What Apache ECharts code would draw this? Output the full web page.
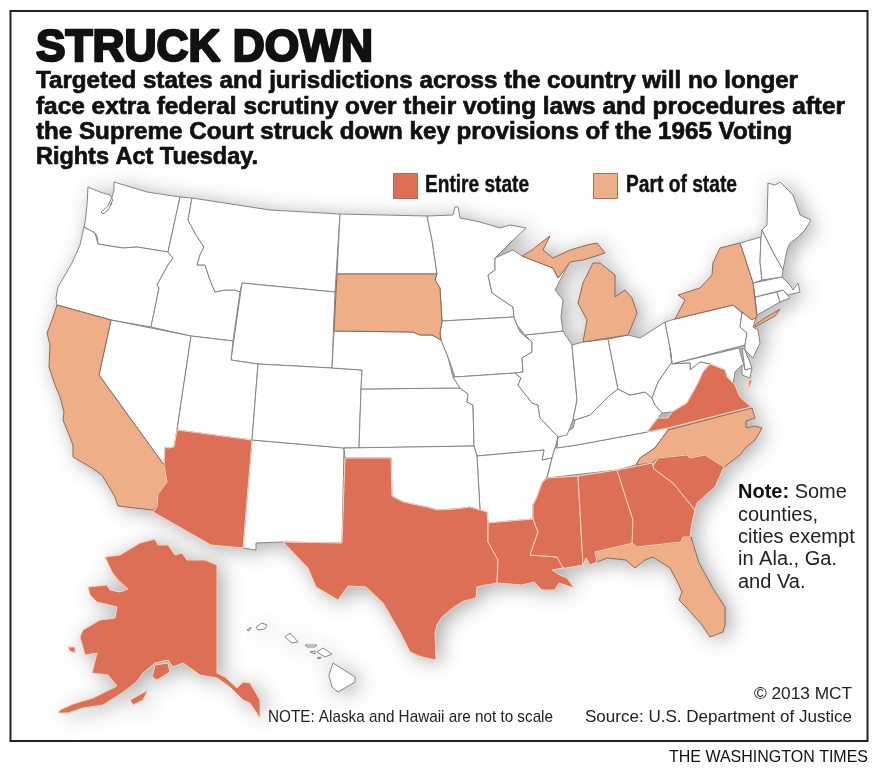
<!DOCTYPE html>
<html>
<head>
<meta charset="utf-8">
<style>
  html, body { margin: 0; padding: 0; background: #fff; }
  #main { width: 878px; height: 774px; }
</style>
<script src="https://cdn.jsdelivr.net/npm/echarts@6/dist/echarts.min.js"></script>
</head>
<body>
<div id="main"></div>
<script>
// state outlines, in map units (y grows downward)
const WA = [[[114,182],[147,192],[180,197],[168,252],[137,247],[123,248],[110,246],[98,244],[97,236],[95,233],[84,227],[85,222],[86,215],[87,205],[88,187],[95,190],[100,192],[110,195],[113,200],[110,205],[112,203],[108,210],[103,214],[101,212],[108,206],[112,197],[114,190]]];
const OR = [[[84,227],[95,233],[98,244],[110,246],[123,248],[137,247],[168,252],[173,258],[168,265],[157,285],[159,288],[151,327],[111,320],[57,305],[56,298],[58,287],[72,263],[80,245]]];
const ID = [[[180,197],[192,198],[188,220],[196,235],[204,247],[200,255],[197,265],[205,265],[210,280],[215,292],[225,290],[235,290],[240,292],[233,341],[191,336],[151,327],[159,288],[157,285],[168,265],[173,258],[168,252]]];
const MT = [[[192,198],[270,210],[340,214],[335,292],[242,283],[240,292],[235,290],[225,290],[215,292],[210,280],[205,265],[197,265],[200,255],[204,247],[196,235],[188,220]]];
const WY = [[[242,283],[335,292],[332,368],[258,364],[231,360]]];
const NV = [[[111,320],[191,336],[177,430],[174,447],[168,448],[165,447],[164,465],[99,375]]];
const CA = [[[57,305],[111,320],[99,375],[164,465],[167,482],[158,494],[157,507],[153,510],[118,506],[115,497],[102,475],[92,468],[73,457],[73,445],[63,420],[64,412],[60,397],[55,385],[49,367],[50,345],[47,333],[52,320]]];
const UT = [[[191,336],[233,341],[231,360],[258,364],[252,440],[177,430]]];
const AZ = [[[177,430],[252,440],[243,548],[211,545],[153,512],[157,507],[158,494],[167,482],[164,465],[165,447],[168,448],[174,447]]];
const NM = [[[252,440],[344,448],[342,543],[283,542],[256,543],[256,550],[243,548]]];
const CO = [[[258,364],[332,368],[362,370],[361,389],[359,448],[344,448],[252,440]]];
const KS = [[[361,389],[460,388],[468,394],[467,402],[473,405],[474,446],[359,448]]];
const NE = [[[334,331],[413,332],[420,335],[432,335],[441,340],[448,357],[453,377],[460,388],[361,389],[362,370],[332,368]]];
const SD = [[[337,274],[437,274],[435,280],[440,288],[442,322],[440,333],[441,340],[432,335],[420,335],[413,332],[334,331]]];
const ND = [[[340,214],[427,216],[432,240],[437,274],[337,274]]];
const MN = [[[427,216],[453,215],[455,207],[458,207],[460,218],[480,222],[500,228],[510,225],[526,228],[510,243],[498,255],[495,258],[495,270],[488,275],[492,293],[513,307],[514,317],[442,321],[440,288],[435,280],[437,274],[432,240]]];
const IA = [[[442,321],[514,317],[517,325],[520,332],[532,342],[532,352],[522,358],[523,372],[515,373],[455,377],[448,357],[441,340],[440,333]]];
const MO = [[[455,377],[515,373],[521,378],[518,385],[532,403],[538,405],[540,418],[558,437],[555,448],[552,458],[542,460],[544,450],[477,456],[474,446],[473,405],[467,402],[468,394],[460,388],[453,377]]];
const AR = [[[477,456],[544,450],[542,460],[552,458],[547,477],[542,483],[537,497],[533,505],[533,519],[488,523],[487,512],[480,510]]];
const OK = [[[344,448],[474,446],[477,456],[480,510],[470,507],[455,509],[437,510],[427,507],[417,505],[403,502],[392,496],[391,458],[345,458]]];
const TX = [[[345,458],[391,458],[392,496],[403,502],[417,505],[427,507],[437,510],[455,509],[470,507],[480,510],[487,512],[488,523],[488,542],[498,560],[497,583],[486,585],[477,587],[476,598],[464,601],[454,607],[442,617],[437,625],[435,633],[436,660],[422,657],[410,652],[400,632],[383,603],[366,587],[348,586],[338,600],[316,587],[308,568],[283,542],[342,543]]];
const LA = [[[488,523],[533,519],[538,532],[530,555],[557,557],[563,568],[552,570],[560,575],[567,578],[574,588],[559,583],[555,590],[542,590],[534,582],[522,585],[497,583],[498,560],[488,542]]];
const MS = [[[547,478],[578,476],[583,565],[566,568],[563,568],[557,557],[530,555],[538,532],[533,519],[533,505],[537,497],[542,483]]];
const AL = [[[578,476],[617,470],[633,520],[633,543],[595,552],[597,562],[590,565],[586,558],[583,565]]];
const GA = [[[617,470],[652,463],[654,469],[673,483],[695,510],[692,523],[690,537],[683,537],[681,542],[637,547],[632,543],[633,520]]];
const SC = [[[653,466],[658,458],[687,455],[690,458],[705,455],[724,467],[715,487],[697,503],[695,510],[673,483],[654,469]]];
const NC = [[[636,465],[640,458],[655,448],[668,430],[752,408],[755,418],[746,421],[746,428],[755,426],[762,428],[755,440],[745,448],[740,455],[724,467],[705,455],[690,458],[687,455],[658,458],[652,463]]];
const VA = [[[647,432],[658,418],[668,418],[672,412],[687,403],[698,383],[703,372],[710,364],[725,370],[727,377],[735,385],[740,397],[751,407],[668,428]], [[749,380],[752,380],[748,392]]];
const WV = [[[670,348],[672,364],[690,363],[690,370],[700,362],[710,364],[703,372],[698,383],[687,403],[672,412],[662,413],[655,405],[652,398],[658,382],[672,362]]];
const KY = [[[557,448],[558,437],[573,428],[575,420],[590,415],[610,395],[618,389],[630,395],[645,392],[652,398],[655,405],[662,413],[658,418],[647,432],[642,433],[577,445]]];
const TN = [[[555,448],[577,445],[642,433],[647,432],[668,428],[668,430],[655,448],[640,458],[636,465],[617,470],[547,478],[552,458]]];
const IL = [[[525,335],[563,331],[572,345],[577,400],[573,420],[567,435],[558,437],[540,418],[538,405],[532,403],[518,385],[521,378],[515,373],[523,372],[522,358],[532,352],[532,342]]];
const WI = [[[495,258],[513,250],[522,256],[553,268],[558,278],[568,265],[555,290],[563,300],[561,317],[563,331],[525,335],[517,325],[514,317],[513,307],[492,293],[488,275],[495,270]]];
const MI = [[[522,256],[532,250],[542,242],[550,236],[543,250],[553,258],[570,250],[587,245],[597,243],[605,253],[596,256],[583,260],[570,262],[568,265],[558,278],[553,268]], [[593,263],[600,263],[615,275],[615,297],[625,290],[632,298],[637,313],[628,335],[583,342],[587,320],[578,303],[583,283]]];
const IN = [[[572,345],[583,342],[608,339],[618,389],[610,395],[590,415],[575,420],[573,420],[577,400]]];
const OH = [[[608,339],[628,335],[640,338],[665,322],[670,348],[672,362],[658,382],[652,398],[645,392],[630,395],[618,389]]];
const PA = [[[665,322],[675,319],[733,305],[742,313],[740,327],[747,333],[745,345],[672,364],[670,348]]];
const NY = [[[675,319],[685,300],[678,295],[700,288],[712,275],[713,263],[720,248],[740,243],[753,283],[757,317],[752,320],[733,305]], [[755,325],[765,318],[780,309],[775,316],[755,327]]];
const NJ = [[[742,313],[756,318],[753,327],[758,330],[760,343],[753,358],[745,350],[745,345],[747,333],[740,327]]];
const DE = [[[742,348],[745,350],[752,368],[745,370]]];
const MD = [[[672,364],[739,348],[745,370],[752,368],[750,378],[742,375],[742,365],[735,372],[733,385],[727,377],[725,370],[710,364],[700,362],[690,370],[690,363]]];
const CT = [[[755,297],[777,292],[780,302],[757,315]]];
const RI = [[[777,292],[783,290],[790,298],[780,302]]];
const MA = [[[753,283],[782,277],[790,285],[793,290],[798,283],[800,292],[788,295],[783,290],[755,297]]];
const VT = [[[740,243],[761,237],[760,262],[762,280],[753,283]]];
const NH = [[[761,237],[762,230],[773,252],[783,270],[782,277],[762,280],[760,262]]];
const ME = [[[762,230],[767,225],[768,183],[775,185],[780,182],[793,195],[800,215],[811,220],[805,230],[797,238],[790,243],[787,250],[783,270],[773,252]]];
const FL = [[[595,552],[632,543],[637,547],[681,542],[683,537],[691,537],[699,563],[714,590],[725,607],[725,625],[723,632],[710,637],[702,625],[695,617],[686,607],[679,600],[682,592],[678,583],[670,568],[653,557],[645,560],[635,568],[626,560],[607,558],[597,562]]];
const AK = [
  [[105,557],[120,555],[140,543],[155,539],[158,545],[168,545],[175,555],[182,553],[187,560],[205,560],[217,565],[217,673],[225,677],[237,688],[243,682],[250,683],[260,700],[260,718],[250,703],[243,700],[230,687],[217,678],[200,675],[183,663],[173,667],[168,660],[155,663],[143,673],[138,680],[134,684],[122,693],[103,705],[83,708],[68,713],[58,713],[60,710],[73,704],[93,698],[117,686],[108,675],[92,673],[97,653],[85,655],[80,637],[83,630],[100,620],[115,618],[117,607],[97,602],[90,595],[88,587],[107,585],[110,590],[120,592],[128,589],[118,580],[112,572]],
  [[130,700],[148,690],[143,700],[133,705]],
  [[152,677],[155,665],[168,663],[170,672],[157,680]],
  [[68,647],[75,647],[75,653],[70,651]]
];
const HI = [
  [[256,627],[262,623],[267,625],[265,629],[258,630]],
  [[247,630],[251,627],[249,631]],
  [[285,637],[290,633],[298,642],[292,643]],
  [[305,645],[317,645],[315,647],[307,647]],
  [[310,652],[315,651],[315,654]],
  [[317,652],[323,648],[332,654],[325,657]],
  [[317,658],[321,657],[320,659]],
  [[333,663],[355,677],[355,682],[338,692],[332,687],[329,675]]
];

// draw order matters: the light outlines of the coloured states stay on top
const plainStates = { WA, OR, ID, MT, WY, NV, UT, NM, CO, KS, NE, ND, MN, IA, MO, AR, OK, TN, KY, IL, WI, IN, OH, PA, NJ, DE, MD, WV, CT, RI, MA, VT, NH, ME, HI };
const partStates = { CA, SD, MI, NY, NC, FL };
const entireStates = { AZ, TX, LA, MS, AL, GA, SC, VA, AK };

const headline = 'STRUCK DOWN';
const deck = [
  'Targeted states and jurisdictions across the country will no longer',
  'face extra federal scrutiny over their voting laws and procedures after',
  'the Supreme Court struck down key provisions of the 1965 Voting',
  'Rights Act Tuesday.'
];
const legendLabels = ['Entire state', 'Part of state'];
const noteLines = ['{b|Note:} Some', 'counties,', 'cities exempt', 'in Ala., Ga.', 'and Va.'];

const ENTIRE = '#dc6f55';
const PART = '#eeae87';

function toFeature(name, rings) {
  return {
    type: 'Feature',
    properties: { name },
    geometry: {
      type: 'MultiPolygon',
      coordinates: rings.map((r) => [r.map((p) => [p[0], -p[1]])])
    }
  };
}
const allStates = { ...plainStates, ...partStates, ...entireStates };
const geoJson = {
  type: 'FeatureCollection',
  features: Object.keys(allStates).map((k) => toFeature(k, allStates[k]))
};
echarts.registerMap('us', geoJson);
echarts.registerMap('usShadow', geoJson);

const stateData = [
  ...Object.keys(plainStates).map((name) => ({ name, value: 0, itemStyle: { borderColor: '#858585', borderWidth: 1 } })),
  ...Object.keys(partStates).map((name) => ({ name, value: 1, itemStyle: { borderColor: '#8d6a58', borderWidth: 1 } })),
  ...Object.keys(entireStates).map((name) => ({ name, value: 2, itemStyle: { borderColor: '#f8d3bd', borderWidth: 1 } }))
];

// squeeze a line to the width it has in the print font
const ctx = document.createElement('canvas').getContext('2d');
function textLine(text, x, y, font, width, fill, extra) {
  ctx.font = font;
  const scale = width / ctx.measureText(text).width;
  return {
    type: 'text',
    x, y,
    scaleX: scale,
    silent: true,
    style: Object.assign({ text, font, fill: fill || '#111', textVerticalAlign: 'middle' }, extra)
  };
}

const SANS = '"Liberation Sans", Arial, sans-serif';
const SMALL = '17px ' + SANS;
const deckWidths = [762, 809, 756, 222];
const deckY = [81.5, 107, 132, 157];
const swatches = [
  { x: 393.5, color: ENTIRE, labelX: 425, labelWidth: 104 },
  { x: 593.5, color: PART, labelX: 626, labelWidth: 111 }
];

const chart = echarts.init(document.getElementById('main'));
chart.setOption({
  animation: false,
  visualMap: {
    type: 'piecewise',
    show: false,
    seriesIndex: 1,
    pieces: [
      { value: 2, label: legendLabels[0], color: ENTIRE },
      { value: 1, label: legendLabels[1], color: PART }
    ],
    outOfRange: { color: '#fff' }
  },
  series: [
    {
      // soft drop shadow under the whole country
      type: 'map', map: 'usShadow', silent: true, aspectScale: 1,
      boundingCoords: [[0, 0], [878, -774]],
      left: 0, top: 0, width: 878, height: 774,
      label: { show: false },
      itemStyle: { areaColor: '#fff', borderWidth: 0, shadowColor: 'rgba(60,60,60,0.45)', shadowBlur: 20, shadowOffsetX: 5, shadowOffsetY: 3 },
      data: []
    },
    {
      type: 'map', map: 'us', silent: true, aspectScale: 1,
      boundingCoords: [[0, 0], [878, -774]],
      left: 0, top: 0, width: 878, height: 774,
      label: { show: false },
      emphasis: { disabled: true },
      select: { disabled: true },
      itemStyle: { areaColor: '#fff', borderColor: '#858585', borderWidth: 1 },
      data: stateData
    }
  ],
  graphic: [
    { type: 'rect', silent: true, shape: { x: 10.5, y: 11, width: 857, height: 730 }, style: { fill: 'none', stroke: '#222', lineWidth: 2 }, z: 10 },
    textLine(headline, 36, 49, 'bold 45px ' + SANS, 337, '#111', { stroke: '#111', lineWidth: 2.4 }),
    ...deck.map((t, i) => textLine(t, 36, deckY[i], 'bold 24px ' + SANS, deckWidths[i], '#111', { stroke: '#111', lineWidth: 0.7 })),
    ...swatches.map((s) => ({ type: 'rect', silent: true, shape: { x: s.x, y: 173.5, width: 24, height: 25 }, style: { fill: s.color, stroke: '#a8705a', lineWidth: 1 } })),
    ...swatches.map((s, i) => textLine(legendLabels[i], s.labelX, 186, 'bold 23px ' + SANS, s.labelWidth, '#111', { stroke: '#111', lineWidth: 0.4 })),
    {
      type: 'text', x: 738, y: 481.4, silent: true,
      style: {
        text: noteLines.join('\n'),
        font: '20px ' + SANS,
        lineHeight: 22.4,
        fill: '#222',
        rich: { b: { font: 'bold 20px ' + SANS, fill: '#111' } }
      }
    },
    textLine('NOTE: Alaska and Hawaii are not to scale', 268, 717, SMALL, 285, '#222'),
    textLine('Source: U.S. Department of Justice', 585, 717, SMALL, 267, '#222'),
    textLine('© 2013 MCT', 754, 694, SMALL, 98, '#222'),
    textLine('THE WASHINGTON TIMES', 669, 757, SMALL, 199, '#111')
  ]
});
</script>
</body>
</html>
